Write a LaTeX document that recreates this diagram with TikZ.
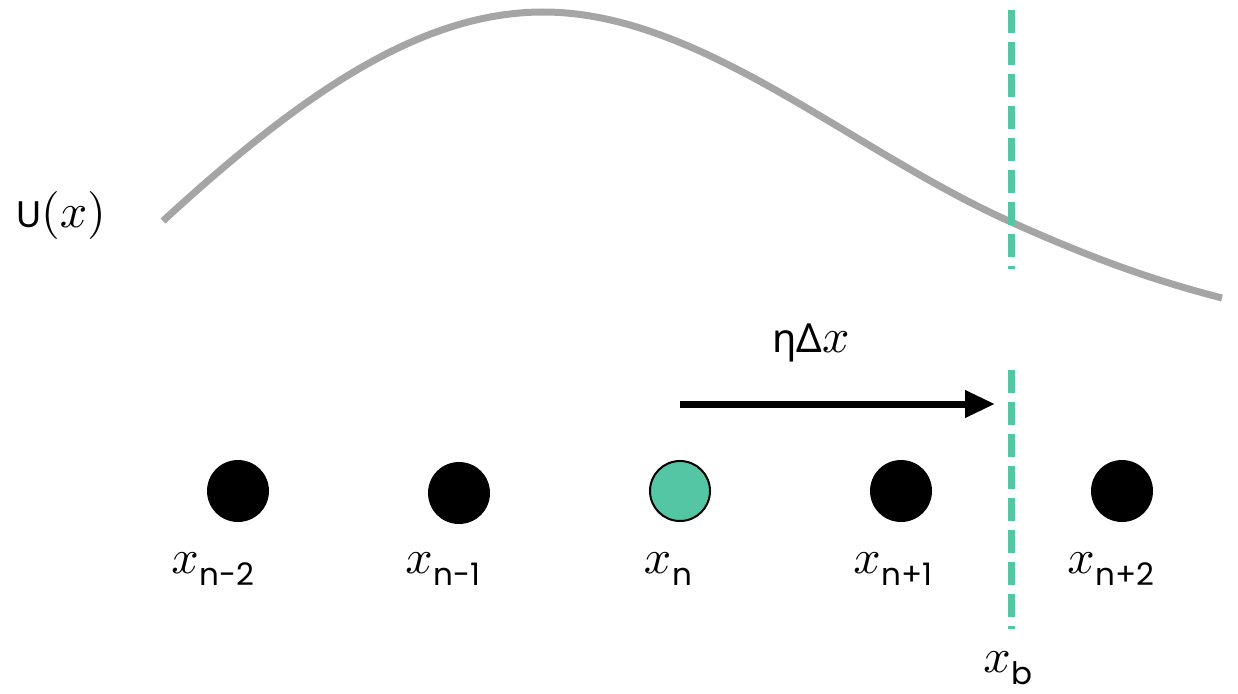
\documentclass[tikz,border=0pt]{standalone}
\usepackage{fontspec}
\setmainfont{Poppins}
\newfontfamily\grk{Noto Sans}
\usetikzlibrary{arrows.meta}
\definecolor{mygreen}{HTML}{55C6A4}
\definecolor{curvegray}{HTML}{A5A5A5}
\newcommand{\mxx}{\scalebox{4.8}{$x$}}
\newcommand{\subl}[1]{\kern1pt\raisebox{-12pt}{\fontsize{31}{34}\selectfont #1}}
\begin{document}
\begin{tikzpicture}[x=1pt,y=-1pt]
\useasboundingbox (0,0) rectangle (1238,693);
\tikzset{
  ucurve/.style={draw=curvegray,line width=7pt},
  bound/.style={draw=mygreen,line width=7pt,dash pattern=on 23pt off 9pt},
  grid pt/.style={circle,fill=black,minimum size=62pt,inner sep=0pt},
  cur pt/.style={circle,fill=mygreen,draw=black,line width=2pt,minimum size=60pt,inner sep=0pt},
  lbl/.style={inner sep=0pt,anchor=base},
  shift arrow/.style={line width=7pt,-{Triangle[length=30pt,width=26pt]}}
}
% curve u(x)
\coordinate (c0) at (163,221);
\coordinate (c1) at (543,12);
\coordinate (c2) at (1011,222);
\coordinate (c3) at (1222,298);
\draw[ucurve] (c0) .. controls (300,95) and (420,12) .. (c1)
  .. controls (700,12) and (850,150) .. (c2)
  .. controls (1100,262) and (1160,282) .. (c3);
% boundary
\coordinate (bt) at (1011,10);
\coordinate (bm1) at (1011,269);
\coordinate (bm2) at (1011,370);
\coordinate (bb) at (1011,629);
\draw[bound] (bt) -- (bm1);
\draw[bound] (bm2) -- (bb);
% points
\node[grid pt] (p1) at (238,491) {};
\node[grid pt] (p2) at (459,493) {};
\node[cur pt]  (p3) at (680,491) {};
\node[grid pt] (p4) at (901,491) {};
\node[grid pt] (p5) at (1122,491) {};
% arrow
\coordinate (a0) at (680,404);
\coordinate (a1) at (995,404);
\draw[shift arrow] (a0) -- (a1);
% labels
\node[lbl] (lu) at (61,227) {{\fontsize{37}{40}\selectfont U}\scalebox{4.8}{$(x)$}};
\node[lbl] (leta) at (811,352) {{\grk\fontsize{40}{44}\selectfont ηΔ}\mxx};
\node[lbl] (l1) at (213,573) {\mxx\subl{n-2}};
\node[lbl] (l2) at (443,573) {\mxx\subl{n-1}};
\node[lbl] (l3) at (668,573) {\mxx\subl{n}};
\node[lbl] (l4) at (893,573) {\mxx\subl{n+1}};
\node[lbl] (l5) at (1111,573) {\mxx\subl{n+2}};
\node[lbl] (lb) at (1008,672) {\mxx\subl{b}};
\end{tikzpicture}
\end{document}
